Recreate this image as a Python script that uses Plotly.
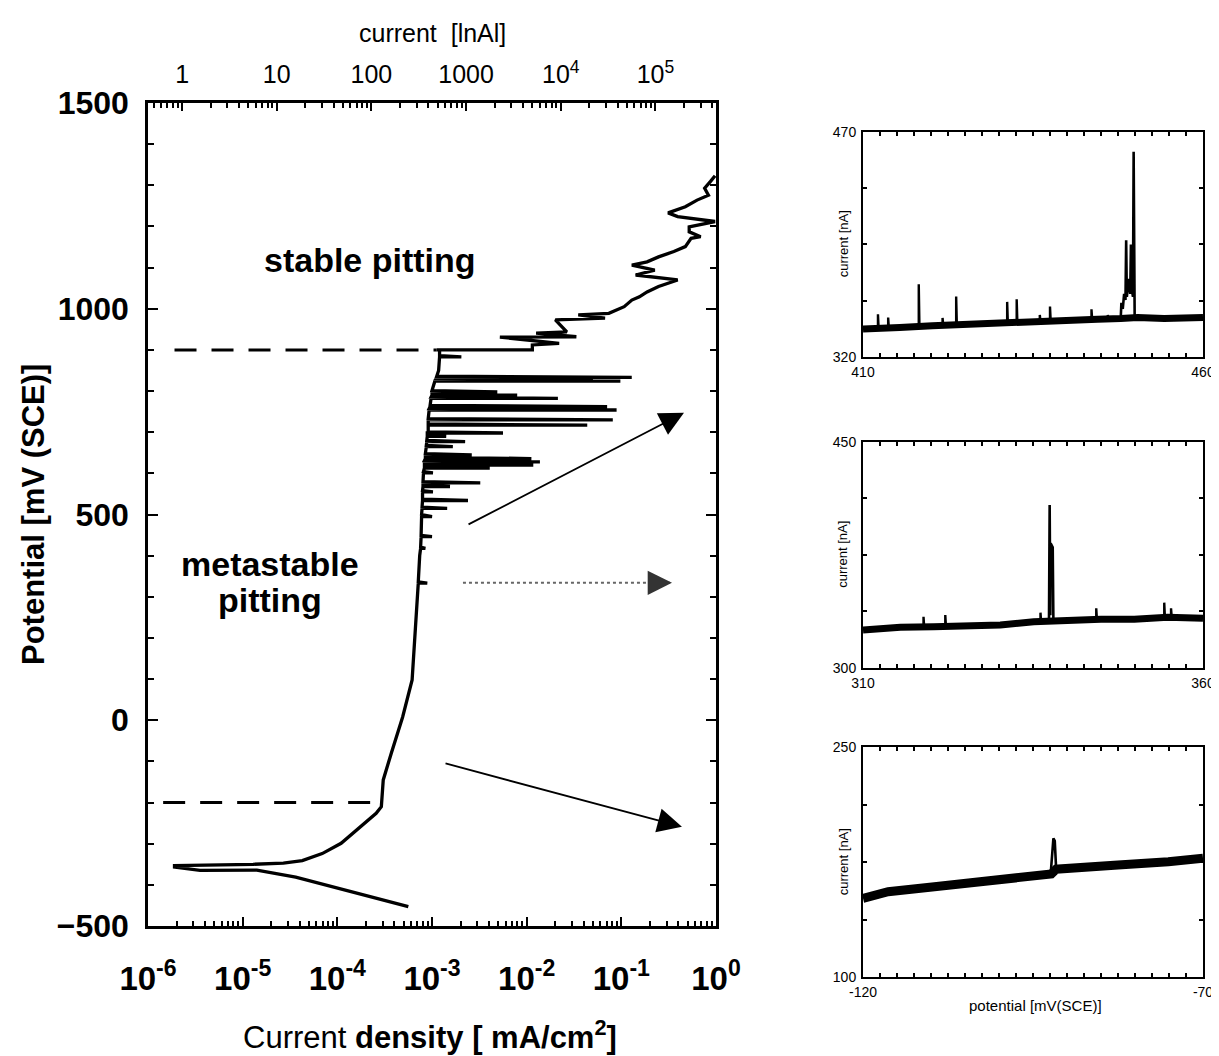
import plotly.graph_objects as go

W, H = 1219, 1056
OX, OY = 8, 8   # page body margin offset of the rendered figure
FONT = "Liberation Sans, Arial, Helvetica, sans-serif"

# ---------------- main polarization curve (log10 current density [mA/cm2], potential [mV SCE]) ----------------
cath_logJ = [-3.25, -3.64, -4.04, -4.44, -4.85, -5.45, -5.72]
cath_E = [-453, -429, -405, -381, -364, -365, -357]

anod_logJ = [-5.72, -4.89, -4.57, -4.37, -4.16, -3.96, -3.76, -3.59, -3.535, -3.515, -3.43, -3.31,
             -3.21, -3.18, -3.15, -3.13, -3.11, -3.09, -3.04, -3.0, -2.93, -2.92]
anod_E = [-353, -350, -347, -341, -324, -299, -260, -226, -210, -145, -80, 8,
          98, 200, 300, 400, 500, 600, 700, 790, 850, 900]

# metastable pitting transients: potential, backbone log J, peak log J
spike_E = [333, 418, 446, 495, 515, 534, 555, 568, 577, 601, 613, 620, 628, 636, 645, 665, 677,
           690, 698, 717, 730, 754, 762, 782, 790, 798, 824, 826, 833, 883]
spike_base = [-3.145, -3.12, -3.115, -3.11, -3.105, -3.10, -3.10, -3.095, -3.095, -3.09, -3.08, -3.08,
              -3.08, -3.07, -3.07, -3.06, -3.055, -3.05, -3.05, -3.04, -3.04, -3.03, -3.02, -3.01,
              -3.0, -3.0, -2.97, -2.96, -2.95, -2.92]
spike_peak = [-3.05, -3.07, -3.0, -3.0, -2.84, -2.62, -2.99, -2.81, -2.49, -2.99, -2.39, -1.93,
              -1.86, -1.95, -2.58, -2.78, -2.65, -2.85, -2.25, -1.36, -1.09, -1.05, -1.15, -1.67,
              -2.10, -2.31, -1.01, -1.30, -0.89, -2.69]

# stable pitting region
stable_logJ = [-2.95, -1.94, -1.94, -1.657, -2.283, -1.475, -1.90, -1.576, -1.697, -1.172, -1.455,
               -1.132, -0.97, -0.889, -0.809, -0.728, -0.607, -0.405, -0.849, -0.647, -0.889, -0.728,
               -0.607, -0.445, -0.324, -0.263, -0.162, -0.283, -0.283, -0.01, -0.405, -0.506, -0.324,
               -0.2, -0.08, -0.12, -0.06, -0.01]
stable_E = [900, 900, 912, 916, 931, 932, 941, 944, 973, 977, 985, 989, 1005, 1021, 1029, 1041, 1054,
            1070, 1082, 1094, 1106, 1114, 1126, 1139, 1151, 1171, 1175, 1187, 1199, 1212, 1224, 1233,
            1248, 1264, 1276, 1293, 1309, 1323]

# dashed marker lines
dash_E = [900, -200]
dash_start_logJ = [-5.72, -5.84]
dash_end_logJ = [-2.95, -3.53]

# arrows (log J tail, E tail, log J head, E head)
arrow_solid = [(-2.63, 474, -0.338, 747), (-2.873, -104, -0.36, -259)]
arrow_dotted = (-2.673, 334, -0.465, 334)

# axis ticks
xb_vals = [1e-6, 1e-5, 1e-4, 1e-3, 1e-2, 1e-1, 1e0]
xb_text = ["10<sup>-6</sup>", "10<sup>-5</sup>", "10<sup>-4</sup>", "10<sup>-3</sup>",
           "10<sup>-2</sup>", "10<sup>-1</sup>", "10<sup>0</sup>"]
xt_vals = [1, 10, 100, 1000, 1e4, 1e5]
xt_text = ["1", "10", "100", "1000", "10<sup>4</sup>", "10<sup>5</sup>"]
top_range_log = [-0.36, 5.64]
y_vals = [-500, 0, 500, 1000, 1500]

# ---------------- inset panels ----------------
p1_base_mV = [410.0, 410.3, 415.4, 420.2, 425.1, 430.0, 434.8, 439.7, 444.5, 447.9, 450.4, 454.3, 459.2, 460.0]
p1_base_nA = [338.6, 338.6, 339.7, 340.8, 341.9, 343.0, 344.1, 344.1, 345.2, 345.6, 346.3, 345.6, 346.3, 346.3]
p1_spk_mV = [412.2, 413.7, 418.2, 421.7, 423.7, 431.2, 432.6, 436.0, 437.5, 443.6, 446.0]
p1_spk_base = [338.9, 339.4, 340.4, 341.1, 341.6, 342.7, 343.3, 344.1, 344.1, 345.2, 345.4]
p1_spk_peak = [348.5, 346.3, 368.4, 346.0, 360.2, 356.7, 358.4, 348.0, 353.6, 351.8, 348.0]
p1_burst_mV = [447.9, 448.0, 448.2, 448.4, 448.6, 448.7, 448.8, 449.0, 449.1, 449.3, 449.4, 449.5, 449.7, 449.8, 449.85, 449.95]
p1_burst_nA = [345.6, 356.0, 352.0, 362.0, 358.0, 397.7, 360.0, 366.0, 372.0, 362.0, 394.9, 366.0, 360.0, 456.7, 350.0, 346.0]

p2_base_mV = [310.0, 315.5, 320.4, 325.3, 330.2, 335.1, 340.1, 345.0, 349.9, 354.8, 360.0]
p2_base_nA = [325.2, 327.0, 327.4, 327.8, 328.5, 330.7, 331.8, 332.3, 332.3, 333.6, 332.9]
p2_spk_mV = [318.9, 322.1, 336.1, 344.3, 354.3, 355.3]
p2_spk_base = [327.2, 327.6, 330.5, 332.2, 333.4, 333.5]
p2_spk_peak = [334.0, 335.1, 336.7, 339.6, 343.3, 339.6]
p2_burst_mV = [337.35, 337.45, 337.55, 337.6, 337.9, 338.0]
p2_burst_nA = [331.0, 408.0, 335.0, 382.6, 380.0, 331.0]

p3_base_mV = [-120.0, -116.3, -109.5, -102.1, -94.8, -92.3, -91.6, -88.4, -82.5, -75.1, -70.0]
p3_base_nA = [151.5, 155.8, 159.0, 162.3, 166.0, 167.4, 170.5, 171.0, 173.2, 175.4, 177.6]
p3_burst_mV = [-92.4, -92.2, -92.0, -91.8, -91.6, -90.0]
p3_burst_nA = [167.5, 183.0, 190.6, 189.0, 171.0, 170.5]

panels = [
    dict(x_range=[410, 460], y_range=[320, 470], x_text=["410", "460"]),
    dict(x_range=[310, 360], y_range=[300, 450], x_text=["310", "360"]),
    dict(x_range=[-120, -70], y_range=[100, 250], x_text=["-120", "-70"]),
]

# ---------------- build main path ----------------
path_logJ = list(cath_logJ)
path_E = list(cath_E)
events = [(e, 0, lj, None) for e, lj in zip(anod_E, anod_logJ)]
events += [(e, 1, b, p) for e, b, p in zip(spike_E, spike_base, spike_peak)]
events.sort(key=lambda t: (t[0], t[1]))
for e, kind, a, b in events:
    if kind == 0:
        path_logJ.append(a); path_E.append(e)
    else:
        path_logJ += [a, b, a]; path_E += [e, e, e + 3]
path_logJ += stable_logJ
path_E += stable_E
path_J = [10 ** v for v in path_logJ]


def px(x):
    return (x - OX) / W


def py(y):
    return 1 - (y - OY) / H


fig = go.Figure()
fig.add_trace(go.Scatter(x=path_J, y=path_E, mode="lines", line=dict(color="black", width=3.3),
                         xaxis="x", yaxis="y", showlegend=False, hoverinfo="skip"))
for e, a, b in zip(dash_E, dash_start_logJ, dash_end_logJ):
    fig.add_trace(go.Scatter(x=[10 ** a, 10 ** b], y=[e, e], mode="lines",
                             line=dict(color="black", width=3, dash="22px,15px"),
                             xaxis="x", yaxis="y", showlegend=False, hoverinfo="skip"))
# dotted arrow shaft
fig.add_trace(go.Scatter(x=[10 ** arrow_dotted[0], 10 ** arrow_dotted[2]], y=[arrow_dotted[1], arrow_dotted[3]],
                         mode="lines", line=dict(color="#666666", width=2, dash="dot"),
                         xaxis="x", yaxis="y", showlegend=False, hoverinfo="skip"))
# invisible trace so the top axis is drawn
fig.add_trace(go.Scatter(x=[1], y=[0], mode="markers", marker=dict(opacity=0), xaxis="x2", yaxis="y",
                         showlegend=False, hoverinfo="skip"))

# inset traces
inset = [
    (p1_base_mV, p1_base_nA, p1_spk_mV, p1_spk_base, p1_spk_peak, p1_burst_mV, p1_burst_nA, 7),
    (p2_base_mV, p2_base_nA, p2_spk_mV, p2_spk_base, p2_spk_peak, p2_burst_mV, p2_burst_nA, 7),
    (p3_base_mV, p3_base_nA, [], [], [], p3_burst_mV, p3_burst_nA, 9),
]
for i, (bm, bn, sm, sb, sp, um, un, bw) in enumerate(inset):
    xa, ya = "x%d" % (i + 3), "y%d" % (i + 3)
    fig.add_trace(go.Scatter(x=bm, y=bn, mode="lines", line=dict(color="black", width=bw),
                             xaxis=xa, yaxis=ya, showlegend=False, hoverinfo="skip"))
    sx, sy = [], []
    for m, b, p in zip(sm, sb, sp):
        sx += [m, m, m + 0.1, None]
        sy += [b, p, b, None]
    if sx:
        fig.add_trace(go.Scatter(x=sx, y=sy, mode="lines", line=dict(color="black", width=2.4),
                                 xaxis=xa, yaxis=ya, showlegend=False, hoverinfo="skip"))
    fig.add_trace(go.Scatter(x=um, y=un, mode="lines", line=dict(color="black", width=2.6),
                             xaxis=xa, yaxis=ya, showlegend=False, hoverinfo="skip"))

main_xdom = [px(148), px(716)]
main_ydom = [py(926), py(103)]

layout = dict(
    width=W, height=H, margin=dict(l=0, r=0, t=0, b=0, autoexpand=False),
    paper_bgcolor="white", plot_bgcolor="white",
    font=dict(family=FONT, color="black"),
    xaxis=dict(type="log", range=[-6, 0], domain=main_xdom, anchor="y", automargin=False,
               showline=True, linewidth=2.5, linecolor="black", mirror=True,
               ticks="inside", ticklen=9, tickwidth=2, tickcolor="black",
               tickmode="array", tickvals=xb_vals, ticktext=xb_text,
               tickfont=dict(size=33, weight="bold", family=FONT), ticklabelstandoff=22,
               minor=dict(ticks="inside", ticklen=5, tickwidth=1.5, tickcolor="black", dtick="D1", showgrid=False),
               showgrid=False, zeroline=False),
    xaxis2=dict(type="log", range=top_range_log, overlaying="x", side="top", anchor="y", automargin=False,
                showline=True, linewidth=2.5, linecolor="black",
                ticks="inside", ticklen=8, tickwidth=2, tickcolor="black",
                tickmode="array", tickvals=xt_vals, ticktext=xt_text,
                tickfont=dict(size=25, family=FONT), ticklabelstandoff=7,
                minor=dict(ticks="inside", ticklen=5, tickwidth=1.5, tickcolor="black", dtick="D1", showgrid=False),
                showgrid=False, zeroline=False),
    yaxis=dict(range=[-500, 1500], domain=main_ydom, anchor="x", automargin=False,
               showline=True, linewidth=2.5, linecolor="black", mirror="ticks",
               ticks="inside", ticklen=10, tickwidth=2, tickcolor="black",
               tickmode="array", tickvals=y_vals,
               tickfont=dict(size=32, weight="bold", family=FONT), ticklabelstandoff=10,
               minor=dict(ticks="inside", ticklen=6, tickwidth=2, tickcolor="black", dtick=100, showgrid=False),
               showgrid=False, zeroline=False),
)

panel_y = [(357, 131.7), (668, 441.7), (977.3, 747.3)]
for i, pnl in enumerate(panels):
    xr, yr = pnl["x_range"], pnl["y_range"]
    xstep = (xr[1] - xr[0]) / 20.0
    ystep = (yr[1] - yr[0]) / 4.0
    xv = [xr[0] + k * xstep for k in range(21)]
    xt = [pnl["x_text"][0]] + [""] * 19 + [pnl["x_text"][1]]
    yv = [yr[0] + k * ystep for k in range(5)]
    yt = [str(yr[0])] + [""] * 3 + [str(yr[1])]
    n = i + 3
    layout["xaxis%d" % n] = dict(range=xr, domain=[px(863), px(1203)], anchor="y%d" % n, automargin=False,
                                 showline=True, linewidth=2, linecolor="black", mirror="ticks",
                                 ticks="inside", ticklen=4, tickwidth=1.5, tickcolor="black",
                                 tickmode="array", tickvals=xv, ticktext=xt,
                                 tickfont=dict(size=14, family=FONT), ticklabelstandoff=1,
                                 ticklabeloverflow="allow",
                                 showgrid=False, zeroline=False)
    layout["yaxis%d" % n] = dict(range=yr, domain=[py(panel_y[i][0]), py(panel_y[i][1])], anchor="x%d" % n,
                                 automargin=False,
                                 showline=True, linewidth=2, linecolor="black", mirror="ticks",
                                 ticks="inside", ticklen=4, tickwidth=1.5, tickcolor="black",
                                 tickmode="array", tickvals=yv, ticktext=yt,
                                 tickfont=dict(size=14, family=FONT), ticklabelstandoff=2,
                                 showgrid=False, zeroline=False)

fig.update_layout(**layout)


def label(text, x, y, size, bold=False, angle=0):
    return dict(text=text, x=px(x), y=py(y), xref="paper", yref="paper", showarrow=False,
                xanchor="center", yanchor="middle", textangle=angle,
                font=dict(size=size, family=FONT, weight="bold" if bold else "normal"))


ann = [
    label("stable pitting", 370, 260, 34, True),
    label("metastable", 270, 564, 34, True),
    label("pitting", 270, 600, 34, True),
    label("current  [lnAl]", 432, 33, 25),
    label("Current <b>density [ mA/cm<sup>2</sup>]</b>", 430, 1035, 31),
    label("Potential [mV (SCE)]", 33, 515, 31, True, -90),
    label("potential [mV(SCE)]", 1035, 1005, 15),
]
for yc in [(357 + 131.7) / 2, (668 + 441.7) / 2, (977.3 + 747.3) / 2]:
    ann.append(label("current [nA]", 843, yc, 13, False, -90))
# arrows
for tlj, te, hlj, he in arrow_solid:
    ann.append(dict(x=hlj, y=he, ax=tlj, ay=te, xref="x", yref="y", axref="x", ayref="y", text="",
                    showarrow=True, arrowhead=2, arrowsize=2.7, arrowwidth=1.8, arrowcolor="black"))
ann.append(dict(x=arrow_dotted[2], y=arrow_dotted[3], ax=-16, ay=0, xref="x", yref="y", text="",
                showarrow=True, arrowhead=2, arrowsize=2.7, arrowwidth=1.8, arrowcolor="#333333"))
fig.update_layout(annotations=ann)

fig.write_html("out.html")
